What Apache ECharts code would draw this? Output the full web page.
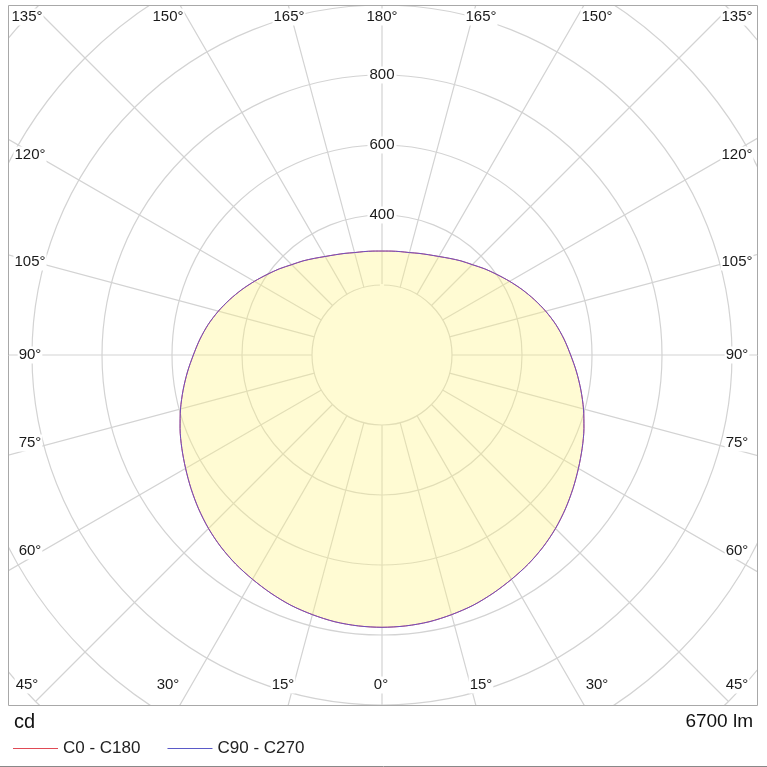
<!DOCTYPE html>
<html>
<head>
<meta charset="utf-8">
<script src="https://cdn.jsdelivr.net/npm/echarts@6/dist/echarts.min.js"></script>
<style>html,body{margin:0;padding:0;background:#fff}#c{width:767px;height:767px}</style>
</head>
<body>
<div id="c"></div>
<script>
// ---- data ----
const ANGLES = [-180,-175,-170,-165,-160,-155,-150,-145,-140,-135,-130,-125,-120,-115,-110,-105,-100,-95,
                -90,-85,-80,-75,-70,-65,-60,-55,-50,-45,-40,-35,-30,-25,-20,-15,-10,-5,
                0,5,10,15,20,25,30,35,40,45,50,55,60,65,70,75,80,85,
                90,95,100,105,110,115,120,125,130,135,140,145,150,155,160,165,170,175,180];
const C0_C180  = [297,298,300,303,309,316,325,337,351,365,383,401,421,442,463,484,504,522,
                  539,558,577,596,614,631,648,666,684,701,716,729,740,751,761,768,774,777,
                  778,777,774,768,761,751,740,729,716,701,684,666,648,631,614,596,577,558,
                  539,522,504,484,463,442,421,401,383,365,351,337,325,316,309,303,300,298,297];
const C90_C270 = [297,298,300,303,309,316,325,337,351,365,383,401,421,442,463,484,504,522,
                  539,558,577,596,614,631,648,666,684,701,716,729,740,751,761,768,774,777,
                  778,777,774,768,761,751,740,729,716,701,684,666,648,631,614,596,577,558,
                  539,522,504,484,463,442,421,401,383,365,351,337,325,316,309,303,300,298,297];
const SERIES_NAMES = ['C0 - C180', 'C90 - C270'];
const RADIUS_LABELS = [400, 600, 800];
const ANGLE_LABELS = ['135°','150°','165°','180°','165°','150°','135°',
                      '120°','105°','90°','75°','60°','45°',
                      '120°','105°','90°','75°','60°','45°',
                      '30°','15°','0°','15°','30°'];
const UNIT_LABEL = 'cd';
const FLUX_LABEL = '6700 lm';

// ---- layout (positions only) ----
const CX = 382, CY = 355;
const BOX = {x: 8, y: 5, w: 749, h: 700};
const LABEL_POS = [[27,17],[168,17],[289,17],[382,17],[481,17],[597,17],[737,17],
                   [30,155],[30,262],[30,355],[30,443],[30,551],[27,685],
                   [737,155],[737,262],[737,355],[737,443],[737,551],[737,685],
                   [168,685],[283,685],[381,685],[481,685],[597,685]];
const FONT = 'Liberation Sans, Arial, sans-serif';

const chart = echarts.init(document.getElementById('c'));
const toData = vals => vals.map((v, i) => [v, ANGLES[i]]);

const graphics = [
  {type:'rect', z:50, shape:{x:0,y:0,width:767,height:BOX.y}, style:{fill:'#fff'}},
  {type:'rect', z:50, shape:{x:0,y:0,width:BOX.x,height:767}, style:{fill:'#fff'}},
  {type:'rect', z:50, shape:{x:BOX.x+BOX.w,y:0,width:767,height:767}, style:{fill:'#fff'}},
  {type:'rect', z:50, shape:{x:0,y:BOX.y+BOX.h,width:767,height:767}, style:{fill:'#fff'}},
  {type:'rect', z:60, shape:{x:BOX.x+0.5,y:BOX.y+0.5,width:BOX.w,height:BOX.h}, style:{fill:null, stroke:'#a8a8a8', lineWidth:1}},
  {type:'line', z:60, shape:{x1:0,y1:766.5,x2:767,y2:766.5}, style:{stroke:'#888', lineWidth:1}},
  {type:'text', z:60, x:14, y:722, style:{text:UNIT_LABEL, fill:'#111', font:'20px '+FONT, textVerticalAlign:'middle'}},
  {type:'text', z:60, x:753, y:722, style:{text:FLUX_LABEL, fill:'#111', font:'19px '+FONT, textAlign:'right', textVerticalAlign:'middle'}}
];
ANGLE_LABELS.forEach((t, i) => {
  graphics.push({type:'text', z:40, x:LABEL_POS[i][0], y:LABEL_POS[i][1],
    style:{text:t, fill:'#1a1a1a', font:'15px '+FONT, align:'center', verticalAlign:'middle',
           backgroundColor:'#fff', padding:[1,1]}});
});

chart.setOption({
  animation: false,
  polar: [
    {center:[CX, CY], radius:[70, 490]},
    {center:[CX, CY], radius:[0, 490]}
  ],
  angleAxis: [
    {polarIndex:0, type:'value', min:-180, max:180, interval:15, startAngle:90, clockwise:true, z:0,
     axisLine:{show:false}, axisTick:{show:false}, axisLabel:{show:false},
     splitLine:{show:true, lineStyle:{color:'#d3d3d3', width:1.2}}},
    {polarIndex:1, type:'value', min:-180, max:180, startAngle:90, clockwise:true,
     axisLine:{show:false}, axisTick:{show:false}, axisLabel:{show:false}, splitLine:{show:false}}
  ],
  radiusAxis: [
    {polarIndex:0, type:'value', min:200, max:1400, interval:200, z:1,
     axisLine:{show:false}, axisTick:{show:false},
     axisLabel:{show:true, margin:0, align:'center', verticalAlign:'middle', color:'#1a1a1a', fontSize:15, fontFamily:FONT,
                backgroundColor:'#fff', padding:[1,2],
                formatter: v => RADIUS_LABELS.indexOf(v) >= 0 ? String(v) : ''},
     splitLine:{show:true, lineStyle:{color:'#d3d3d3', width:1.2}}},
    {polarIndex:1, type:'value', min:0, max:1400,
     axisLine:{show:false}, axisTick:{show:false}, axisLabel:{show:false}, splitLine:{show:false}}
  ],
  legend: {
    z:100, left:8, top:735, itemWidth:45, itemHeight:12, itemGap:27,
    icon: 'path://M0,6 L45,6 L45,7 L0,7 Z',
    textStyle:{fontSize:17, color:'#222', fontFamily:FONT},
    data: SERIES_NAMES
  },
  series: [
    {name:SERIES_NAMES[0], type:'line', coordinateSystem:'polar', polarIndex:1, z:2,
     data: toData(C0_C180), symbol:'none', smooth:0.3,
     lineStyle:{color:'#e04a55', width:1}, itemStyle:{color:'#e04a55'},
     areaStyle:{color:'rgba(255,245,130,0.5)'}},
    {name:SERIES_NAMES[1], type:'line', coordinateSystem:'polar', polarIndex:1, z:3,
     data: toData(C90_C270), symbol:'none', smooth:0.3,
     lineStyle:{color:'#5a50d0', width:1, opacity:0.85}, itemStyle:{color:'#5a5ac8'}}
  ],
  graphic: graphics
});
</script>
</body>
</html>
